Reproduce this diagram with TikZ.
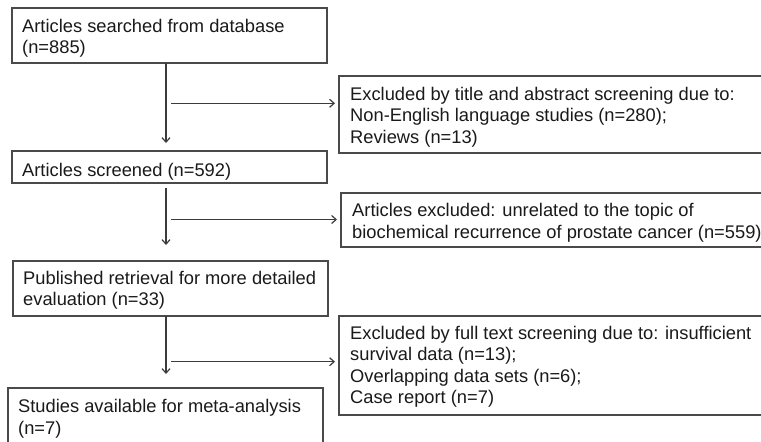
\documentclass[tikz,border=0pt]{standalone}
\usepackage{fontspec}
\setmainfont{Liberation Sans}
\usetikzlibrary{arrows.meta}
\definecolor{boxc}{HTML}{4A4A4A}
\definecolor{txtc}{HTML}{1A1A1A}
\definecolor{arrc}{HTML}{3C3C3C}
\begin{document}
\begin{tikzpicture}[x=1pt,y=-1pt,
  box/.style={draw=boxc, line width=1.3pt, anchor=north west, outer sep=0pt, inner sep=0pt},
  txt/.style={anchor=base west, align=left, inner sep=0pt, text=txtc,
    font=\fontsize{18.3pt}{21.5pt}\selectfont},
  arr/.style={draw=arrc, line width=1.2pt, -{Straight Barb[length=4.5pt,width=8pt]}}]
\clip (0,0) rectangle (761,442);
\fill[white] (0,0) rectangle (761,442);
% left column boxes
\node[box, minimum width=315pt, minimum height=55pt] (b1) at (12,8) {};
\node[box, minimum width=315pt, minimum height=32pt] (b2) at (12,151) {};
\node[box, minimum width=315pt, minimum height=55pt] (b3) at (13,261) {};
\node[box, minimum width=315pt, minimum height=62pt] (b4) at (8,388) {};
% right column boxes
\node[box, minimum width=470pt, minimum height=77pt] (r1) at (339,76) {};
\node[box, minimum width=470pt, minimum height=54pt] (r2) at (341,193) {};
\node[box, minimum width=470pt, minimum height=99pt] (r3) at (339,316) {};
% texts (base anchor = baseline of the last line)
\node[txt] (t1) at (22,53.5) {Articles searched from database\\(n=885)};
\node[txt] (t2) at (22,176) {Articles screened (n=592)};
\node[txt] (t3) at (23,305.5) {Published retrieval for more detailed\\evaluation (n=33)};
\node[txt] (t4) at (18,434) {Studies available for meta-analysis\\(n=7)};
\node[txt] (s1) at (350,143) {Excluded by title and abstract screening due to:\\Non-English language studies (n=280);\\Reviews (n=13)};
\node[txt] (s2) at (352,238) {Articles excluded: unrelated to the topic of\\biochemical recurrence of prostate cancer (n=559)};
\node[txt] (s3) at (350,403.5) {Excluded by full text screening due to: insufficient\\survival data (n=13);\\Overlapping data sets (n=6);\\Case report (n=7)};
% connectors
\coordinate (v1e) at (166,143);
\coordinate (v2s) at (166,188);
\coordinate (v2e) at (166,245);
\coordinate (v3e) at (166,374);
\coordinate (h1) at (171,103.3);
\coordinate (h2) at (171,219.5);
\coordinate (h3) at (171,361.7);
\draw[arr] (v1e |- b1.south) -- (v1e);
\draw[arr] (v2s) -- (v2e);
\draw[arr] (v3e |- b3.south) -- (v3e);
\draw[arr, shorten >=4pt] (h1) -- (h1 -| r1.west);
\draw[arr, shorten >=4pt] (h2) -- (h2 -| r2.west);
\draw[arr, shorten >=4pt] (h3) -- (h3 -| r3.west);
\end{tikzpicture}
\end{document}
